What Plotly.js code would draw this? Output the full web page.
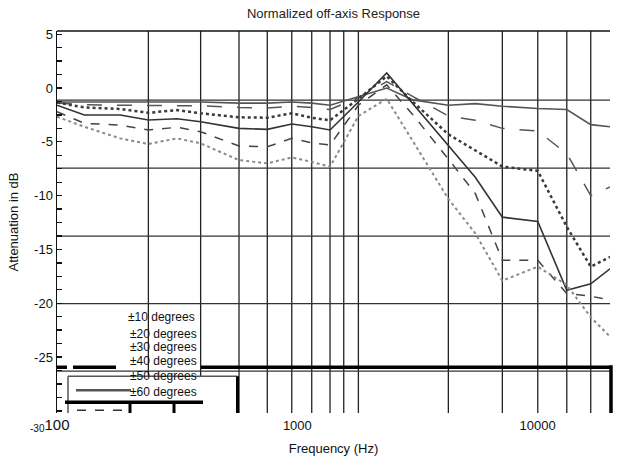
<!DOCTYPE html>
<html>
<head>
<meta charset="utf-8">
<script src="https://cdn.plot.ly/plotly-3.0.1.min.js"></script>
<style>
  html, body { margin: 0; padding: 0; background: #fff; }
  #chart { width: 619px; height: 461px; }
</style>
</head>
<body>
<div id="chart"></div>
<script>
// ---- data ----
const freqs = [100, 130, 183, 240, 316, 396, 572, 750, 948, 1148, 1368, 1795, 2355, 3030, 4250, 5500, 7130, 10010, 13220, 16630, 20000];
const seriesNames = ["±10 degrees", "±20 degrees", "±30 degrees", "±40 degrees", "±50 degrees", "±60 degrees"];
const deg10 = [-1.3, -1.3, -1.3, -1.3, -1.3, -1.3, -1.4, -1.4, -1.3, -1.4, -1.6, -0.8, 0.0, -1.1, -1.6, -1.45, -1.7, -1.9, -2.0, -3.4, -3.6];
const deg20 = [-1.4, -1.55, -1.6, -1.6, -1.6, -1.65, -1.8, -1.85, -1.7, -1.8, -2.0, -0.9, 0.6, -0.8, -2.6, -3.0, -3.75, -4.0, -6.1, -10.0, -9.2];
const deg30 = [-1.35, -1.8, -1.95, -2.3, -2.05, -2.35, -2.72, -2.76, -2.35, -2.76, -3.0, -1.0, 1.1, -1.3, -4.3, -5.8, -7.3, -7.7, -12.9, -16.6, -15.7];
const deg40 = [-1.6, -2.5, -2.5, -2.97, -2.85, -3.13, -3.75, -3.84, -3.35, -3.6, -3.9, -1.3, 1.4, -1.5, -5.4, -8.3, -12.0, -12.4, -18.8, -18.2, -16.8];
const deg50 = [-2.2, -3.28, -3.44, -3.9, -3.65, -4.06, -5.39, -5.46, -4.68, -5.09, -5.3, -1.6, 0.3, -2.5, -6.6, -9.8, -16.0, -16.0, -19.1, -19.35, -19.7];
const deg60 = [-2.67, -3.6, -4.68, -5.2, -4.68, -5.14, -6.7, -7.0, -6.45, -6.86, -7.32, -2.6, -1.0, -5.0, -10.3, -13.5, -17.9, -16.6, -18.3, -21.3, -23.1];
const xTickVals = [100, 1000, 10000];
const xTickText = ["<span style='font-size:15px'>100</span>", "1000", "10000"];
const yTickVals = [5, 0, -5, -10, -15, -20, -25];
const yTickText = ["5", "0", "-5", "-10", "-15", "-20", "-25"];
const gridFreqs = [240, 396, 572, 750, 948, 1148, 1368, 1560, 1795, 4250, 7130, 10010, 13220, 16630];
const gridLevels = [-1.12, -7.44, -13.77, -20.03, -26.3];

// ---- layout helpers (pixel -> paper) ----
const L = 57, R = 610, T = 31, B = 412.7;
const px = x => (x - L) / (R - L);
const py = y => (B - y) / (B - T);

const FONT = "Liberation Sans, Arial, sans-serif";
const styles = [
  {color: "#555", width: 1.6, dash: "solid"},
  {color: "#555", width: 1.5, dash: "longdash"},
  {color: "#3a3a3a", width: 2.5, dash: "dot"},
  {color: "#333", width: 1.6, dash: "solid"},
  {color: "#444", width: 1.5, dash: "dash"},
  {color: "#8a8a8a", width: 2, dash: "dot"}
];
const allSeries = [deg10, deg20, deg30, deg40, deg50, deg60];
const traces = allSeries.map((vals, i) => ({
  type: "scatter", mode: "lines", x: freqs, y: vals, name: seriesNames[i],
  line: styles[i], showlegend: false, hoverinfo: "skip"
}));

const shapes = [];
gridFreqs.forEach(f => shapes.push({type: "line", xref: "x", yref: "paper", x0: f, x1: f, y0: 0, y1: 1,
  line: {color: "#222", width: 1.3}, layer: "below"}));
gridLevels.forEach(v => shapes.push({type: "line", xref: "paper", yref: "y", x0: 0, x1: 1, y0: v, y1: v,
  line: {color: "#333", width: 1.3}, layer: "below"}));
// top border
shapes.push({type: "line", xref: "paper", yref: "paper", x0: 0, x1: 1, y0: 1, y1: 1, line: {color: "#111", width: 1.5}});
// broken legend box
const line = (x0, y0, x1, y1, color, width, dash) => shapes.push({type: "line", xref: "paper", yref: "paper",
  x0: px(x0), x1: px(x1), y0: py(y0), y1: py(y1), line: {color: color, width: width, dash: dash || "solid"}});
shapes.push({type: "rect", xref: "paper", yref: "paper", x0: px(68), x1: px(237.5), y0: 0, y1: py(376),
  fillcolor: "#fff", line: {width: 0}});
line(68, 376, 237.5, 376, "#555", 1.5);
line(68, 376, 68, 412.7, "#555", 1.5);
line(237.5, 376, 237.5, 412.7, "#000", 3);
line(57, 367, 67, 367, "#000", 3.5);
line(73, 367, 116, 367, "#000", 3.5);
line(201, 367, 611, 367, "#000", 3.5);
line(611, 365, 611, 412.7, "#000", 3.5);
line(76, 390, 131, 390, "#555", 2.5);
line(65, 402, 203, 402, "#000", 3.5);
line(77, 410, 130, 410, "#333", 1.5, "dash");
line(130, 402, 130, 412.7, "#000", 3);
line(174, 402, 174, 412.7, "#000", 3);

const legendY = [316.7, 334, 347, 361, 376, 392];
const legendX = [126, 128, 128, 128, 128, 128];
const annotations = seriesNames.map((n, i) => ({
  text: n, xref: "paper", yref: "paper", x: px(legendX[i]), y: py(legendY[i]),
  xanchor: "left", yanchor: "middle", showarrow: false,
  font: {family: FONT, size: 12, color: "#111"}
}));
annotations.push({text: "-30", xref: "paper", yref: "paper", x: px(47), y: py(428),
  xanchor: "right", yanchor: "middle", showarrow: false, font: {family: FONT, size: 10, color: "#111"}});

const layout = {
  width: 619, height: 461,
  margin: {l: L, r: 619 - R, t: T, b: 461 - B, pad: 0},
  paper_bgcolor: "#fff", plot_bgcolor: "#fff",
  font: {family: FONT, size: 12, color: "#111"},
  title: {text: "Normalized off-axis Response", font: {family: FONT, size: 13, color: "#222"},
    x: 0.5, xref: "paper", xanchor: "center", y: 1 - 13 / 461, yref: "container", yanchor: "middle"},
  xaxis: {type: "log", range: [2, Math.log10(20000)], tickvals: xTickVals, ticktext: xTickText,
    showgrid: false, zeroline: false, showline: false, ticks: "", ticklabelstandoff: 3,
    tickfont: {family: FONT, size: 13, color: "#111"},
    title: {text: "Frequency (Hz)", font: {family: FONT, size: 13, color: "#111"}, standoff: 11},
    automargin: false},
  yaxis: {range: [-30.2, 5.3], tickvals: yTickVals, ticktext: yTickText, showgrid: false, zeroline: false,
    showline: true, linecolor: "#111", linewidth: 1.5, ticks: "inside", ticklen: 5, tickcolor: "#111", tickwidth: 1.3,
    minor: {dtick: 1.25, ticks: "inside", ticklen: 5, tickcolor: "#111", tickwidth: 1.3, showgrid: false},
    tickfont: {family: FONT, size: 13, color: "#111"},
    title: {text: "Attenuation in dB", font: {family: FONT, size: 13, color: "#111"}, standoff: 12},
    automargin: false},
  shapes: shapes,
  annotations: annotations,
  showlegend: false
};

Plotly.newPlot("chart", traces, layout, {staticPlot: true, displayModeBar: false});
</script>
</body>
</html>
